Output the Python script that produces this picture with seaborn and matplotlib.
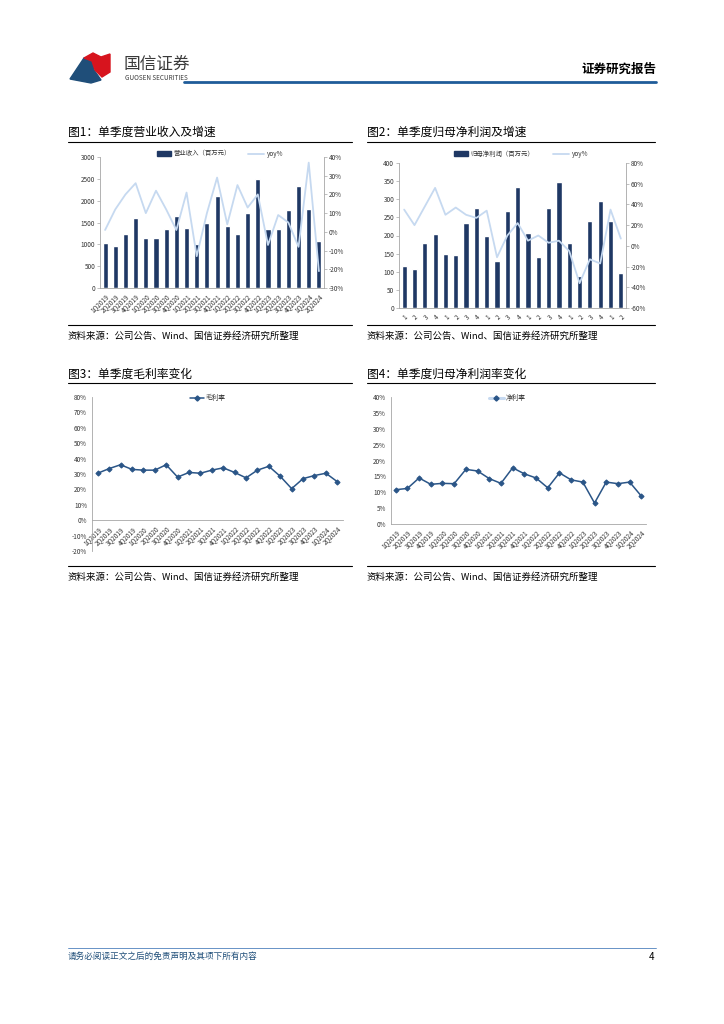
import numpy as np
import pandas as pd
import matplotlib
matplotlib.use('Agg')
import matplotlib.pyplot as plt
import seaborn as sns
from matplotlib.patches import Polygon, Rectangle
from matplotlib.lines import Line2D

sns.set_theme(style='white')
plt.rcParams['font.family'] = ['Noto Sans CJK SC', 'DejaVu Sans']
plt.rcParams['axes.unicode_minus'] = False

# ---- data ----
quarters = ['1Q2019', '2Q2019', '3Q2019', '4Q2019', '1Q2020', '2Q2020', '3Q2020', '4Q2020',
            '1Q2021', '2Q2021', '3Q2021', '4Q2021', '1Q2022', '2Q2022', '3Q2022', '4Q2022',
            '1Q2023', '2Q2023', '3Q2023', '4Q2023', '1Q2024', '2Q2024']
revenue = [1040, 960, 1230, 1610, 1140, 1140, 1360, 1640, 1380, 1000, 1490, 2110,
           1430, 1240, 1710, 2490, 1340, 1350, 1790, 2330, 1820, 1070]
revenue_yoy = [1, 12, 20, 26, 10, 22, 12, 1, 21, -13, 10, 29,
               4, 25, 13, 20, -7, 9, 5, -8, 37, -21]
profit = [115, 107, 180, 205, 149, 146, 234, 275, 198, 130, 268, 335,
          208, 142, 275, 348, 178, 88, 239, 296, 240, 97]
profit_yoy = [35, 20, 38, 56, 30, 37, 30, 27, 34, -11, 10, 22,
              5, 10, 3, 5, -5, -36, -13, -17, 35, 7]
gross_margin = [30.5, 33.5, 36.0, 33.0, 32.5, 32.5, 36.0, 28.0, 31.0, 30.5, 32.5, 34.0,
                31.0, 27.5, 32.5, 35.0, 28.5, 20.5, 27.0, 29.0, 30.5, 25.0]
net_margin = [10.8, 11.2, 14.5, 12.5, 12.8, 12.7, 17.2, 16.7, 14.3, 12.8, 17.7, 15.8,
              14.5, 11.4, 16.1, 13.9, 13.2, 6.6, 13.2, 12.7, 13.2, 8.8]
q_short = [q[0] for q in quarters]

df = pd.DataFrame({'q': quarters, 'pos': np.arange(len(quarters)), 'rev': revenue,
                   'rev_yoy': revenue_yoy, 'profit': profit, 'profit_yoy': profit_yoy,
                   'gm': gross_margin, 'nm': net_margin})

NAVY = '#1F3864'
LIGHT = '#C6D9F0'
LINE = '#2A5587'
AXC = '#A6A6A6'
TXT = '#333333'

W, H = 724, 1024
fig = plt.figure(figsize=(W / 100, H / 100), dpi=100)


def add_ax(l, t, r, b):
    return fig.add_axes([l / W, 1 - b / H, (r - l) / W, (b - t) / H])


def fx(x):
    return x / W


def fy(y):
    return 1 - y / H


def hline(x0, x1, y, color='black', lw=0.8):
    fig.add_artist(Line2D([fx(x0), fx(x1)], [fy(y), fy(y)], color=color, lw=lw))


def style_ax(ax, sides=('left', 'bottom')):
    for s in ['left', 'right', 'top', 'bottom']:
        ax.spines[s].set_visible(s in sides)
        ax.spines[s].set_color(AXC)
        ax.spines[s].set_linewidth(0.6)
    ax.tick_params(axis='both', labelsize=4.6, colors=TXT, length=2, width=0.5,
                   color=AXC, pad=1.5)


def pct(v, p):
    return f'{v:.0f}%'


# ---- header ----
fig.add_artist(Polygon([[fx(70), fy(79)], [fx(84), fy(58)], [fx(92), fy(61)], [fx(94), fy(70)],
                        [fx(101), fy(80)], [fx(91), fy(83)]], closed=True, color='#1F4E79',
                       transform=fig.transFigure))
fig.add_artist(Polygon([[fx(84), fy(58)], [fx(93), fy(53)], [fx(101), fy(57)], [fx(110), fy(54)],
                        [fx(110), fy(72)], [fx(102), fy(77)], [fx(95), fy(70)], [fx(92), fy(61)]],
                       closed=True, color='#D7141E', transform=fig.transFigure))
fig.text(fx(124), fy(64), '国信证券', fontsize=12, color='#3a3a3a', va='center', ha='left')
fig.text(fx(125), fy(78.5), 'GUOSEN SECURITIES', fontsize=4.6, color='#3a3a3a', va='center', ha='left')
fig.text(fx(656), fy(69), '证券研究报告', fontsize=9, color='black', fontweight='bold',
         va='center', ha='right')
hline(184, 656, 82, color='#1F5C99', lw=2)

# ---- titles and notes ----
for x0, x1, title in [(68, 352, '图1：单季度营业收入及增速'), (367, 655, '图2：单季度归母净利润及增速')]:
    fig.text(fx(x0), fy(132), title, fontsize=8.5, color='black', va='center', ha='left')
    hline(x0, x1, 142, lw=0.8)
    hline(x0, x1, 325, lw=0.8)
    fig.text(fx(x0), fy(336), '资料来源：公司公告、Wind、国信证券经济研究所整理', fontsize=6.8,
             color='black', va='center', ha='left')
for x0, x1, title in [(68, 352, '图3：单季度毛利率变化'), (367, 655, '图4：单季度归母净利润率变化')]:
    fig.text(fx(x0), fy(374), title, fontsize=8.5, color='black', va='center', ha='left')
    hline(x0, x1, 383, lw=0.8)
    hline(x0, x1, 566, lw=0.8)
    fig.text(fx(x0), fy(577), '资料来源：公司公告、Wind、国信证券经济研究所整理', fontsize=6.8,
             color='black', va='center', ha='left')

# ---- chart 1 ----
ax1 = add_ax(100, 157, 324, 288)
sns.barplot(data=df, x='pos', y='rev', color=NAVY, width=0.5, saturation=1, ax=ax1,
            native_scale=True)
ax1.set_xlim(-0.5, len(quarters) - 0.5)
ax1.set_ylim(0, 3000)
ax1.set_yticks(np.arange(0, 3001, 500))
ax1.set_xticks(df['pos'])
ax1.set_xticklabels(quarters, rotation=45, ha='right', rotation_mode='anchor')
ax1.set_xlabel('')
ax1.set_ylabel('')
style_ax(ax1, ('left', 'bottom', 'right'))
ax1b = ax1.twinx()
sns.lineplot(data=df, x='pos', y='rev_yoy', color=LIGHT, lw=1.3, ax=ax1b)
ax1b.set_ylim(-30, 40)
ax1b.set_yticks(np.arange(-30, 41, 10))
ax1b.yaxis.set_major_formatter(pct)
ax1b.set_ylabel('')
style_ax(ax1b, ('right',))
ax1b.spines['right'].set_visible(False)
fig.add_artist(Rectangle((fx(157), fy(155.5)), fx(14) - fx(0), fy(0) - fy(4.5), color=NAVY,
                         transform=fig.transFigure))
fig.text(fx(174), fy(153.5), '营业收入（百万元）', fontsize=4.6, color=TXT, va='center')
hline(248, 264, 153.5, color=LIGHT, lw=1.3)
fig.text(fx(267), fy(153.5), 'yoy%', fontsize=4.6, color=TXT, va='center')

# ---- chart 2 ----
ax2 = add_ax(399, 163, 626, 308)
sns.barplot(data=df, x='pos', y='profit', color=NAVY, width=0.5, saturation=1, ax=ax2,
            native_scale=True)
ax2.set_xlim(-0.5, len(quarters) - 0.5)
ax2.set_ylim(0, 400)
ax2.set_yticks(np.arange(0, 401, 50))
ax2.set_xticks(df['pos'])
ax2.set_xticklabels(q_short, rotation=45, ha='right', rotation_mode='anchor')
ax2.set_xlabel('')
ax2.set_ylabel('')
style_ax(ax2, ('left', 'bottom', 'right'))
ax2b = ax2.twinx()
sns.lineplot(data=df, x='pos', y='profit_yoy', color=LIGHT, lw=1.3, ax=ax2b)
ax2b.set_ylim(-60, 80)
ax2b.set_yticks(np.arange(-60, 81, 20))
ax2b.yaxis.set_major_formatter(pct)
ax2b.set_ylabel('')
style_ax(ax2b, ('right',))
ax2b.spines['right'].set_visible(False)
fig.add_artist(Rectangle((fx(454), fy(155.5)), fx(14) - fx(0), fy(0) - fy(4.5), color=NAVY,
                         transform=fig.transFigure))
fig.text(fx(470), fy(153.5), '归母净利润（百万元）', fontsize=4.6, color=TXT, va='center')
hline(553, 569, 153.5, color=LIGHT, lw=1.3)
fig.text(fx(572), fy(153.5), 'yoy%', fontsize=4.6, color=TXT, va='center')

# ---- chart 3 ----
ax3 = add_ax(92, 397, 343, 551)
sns.lineplot(data=df, x='pos', y='gm', color=LINE, lw=1.1, marker='D', markersize=2.6,
             markeredgecolor=LINE, ax=ax3)
style_ax(ax3)
ax3.spines['bottom'].set_position(('data', 0))
ax3.set_xlim(-0.5, len(quarters) - 0.5)
ax3.set_ylim(-20, 80)
ax3.set_yticks(np.arange(-20, 81, 10))
ax3.yaxis.set_major_formatter(pct)
ax3.set_xticks(df['pos'])
ax3.set_xticklabels(quarters, rotation=45, ha='right', rotation_mode='anchor')
ax3.tick_params(axis='both', labelsize=4.6, colors=TXT, length=2, width=0.5,
                color=AXC, pad=1.5)
ax3.set_xlabel('')
ax3.set_ylabel('')
hline(190, 204, 398, color=LINE, lw=1.1)
fig.add_artist(Line2D([fx(197)], [fy(398)], marker='D', markersize=2.6, color=LINE))
fig.text(fx(206), fy(398), '毛利率', fontsize=4.8, color=TXT, va='center')

# ---- chart 4 ----
ax4 = add_ax(391, 397, 646, 524)
sns.lineplot(data=df, x='pos', y='nm', color=LINE, lw=1.1, marker='D', markersize=2.6,
             markeredgecolor=LINE, ax=ax4)
ax4.set_xlim(-0.4, len(quarters) - 0.6)
ax4.set_ylim(0, 40)
ax4.set_yticks(np.arange(0, 41, 5))
ax4.yaxis.set_major_formatter(pct)
ax4.set_xticks(df['pos'])
ax4.set_xticklabels(quarters, rotation=45, ha='right', rotation_mode='anchor')
ax4.set_xlabel('')
ax4.set_ylabel('')
style_ax(ax4)
hline(489, 504, 398, color=LIGHT, lw=2.2)
fig.add_artist(Line2D([fx(496.5)], [fy(398)], marker='D', markersize=2.6, color=LINE))
fig.text(fx(506), fy(398), '净利率', fontsize=4.8, color=TXT, va='center')

# ---- footer ----
hline(68, 656, 948, color='#4F81BD', lw=0.6)
fig.text(fx(68), fy(956), '请务必阅读正文之后的免责声明及其项下所有内容', fontsize=6.2,
         color='#1F4E79', style='italic', va='center')
fig.text(fx(654), fy(957), '4', fontsize=7, color='black', va='center', ha='right')

fig.savefig('out.png', dpi=100)
